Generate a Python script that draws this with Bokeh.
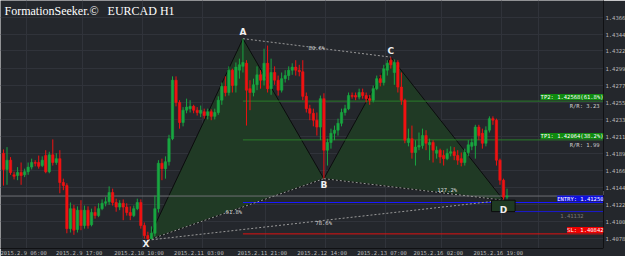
from bokeh.plotting import figure
from bokeh.models import ColumnDataSource, Range1d, FixedTicker, Label
from bokeh.core.properties import value
from bokeh.embed import file_html
from bokeh.resources import INLINE

# ---------------- data (EURCAD H1) ----------------
opens = [1.4189,1.4168,1.4180,1.4161,1.4160,1.4164,1.4161,1.4165,1.4171,1.4177,1.4177,1.4173,1.4186,1.4165,1.4187,1.4177,
         1.4182,1.4151,1.4147,1.4091,1.4117,1.4090,1.4115,1.4095,1.4115,1.4096,1.4112,1.4108,1.4117,1.4124,1.4126,1.4138,
         1.4125,1.4119,1.4124,1.4119,1.4112,1.4108,1.4117,1.4125,1.4095,1.4082,1.4078,1.4085,1.4117,1.4176,1.4169,1.4178,
         1.4208,1.4284,1.4255,1.4229,1.4245,1.4247,1.4250,1.4245,1.4241,1.4243,1.4238,1.4243,1.4237,1.4242,1.4258,1.4276,
         1.4268,1.4297,1.4277,1.4297,1.4302,1.4306,1.4273,1.4268,1.4278,1.4291,1.4284,1.4306,1.4273,1.4294,1.4284,1.4271,
         1.4286,1.4290,1.4297,1.4301,1.4297,1.4295,1.4263,1.4247,1.4241,1.4232,1.4223,1.4260,1.4193,1.4203,1.4215,1.4219,
         1.4228,1.4242,1.4247,1.4264,1.4264,1.4262,1.4268,1.4264,1.4260,1.4258,1.4273,1.4286,1.4281,1.4297,1.4310,1.4294,
         1.4307,1.4275,1.4258,1.4203,1.4208,1.4190,1.4197,1.4199,1.4212,1.4200,1.4203,1.4189,1.4193,1.4186,1.4182,1.4189,
         1.4191,1.4186,1.4182,1.4177,1.4190,1.4198,1.4199,1.4223,1.4215,1.4202,1.4219,1.4234,1.4232,1.4180,1.4154,1.4132]
highs = [1.4194,1.4197,1.4184,1.4165,1.4171,1.4177,1.4169,1.4177,1.4182,1.4180,1.4186,1.4185,1.4193,1.4191,1.4207,1.4189,
         1.4193,1.4156,1.4150,1.4125,1.4122,1.4120,1.4128,1.4121,1.4120,1.4117,1.4120,1.4124,1.4129,1.4132,1.4146,1.4143,
         1.4130,1.4128,1.4129,1.4124,1.4120,1.4121,1.4130,1.4129,1.4099,1.4087,1.4094,1.4134,1.4180,1.4182,1.4185,1.4213,
         1.4289,1.4289,1.4258,1.4249,1.4260,1.4258,1.4252,1.4249,1.4251,1.4247,1.4247,1.4246,1.4247,1.4263,1.4281,1.4289,
         1.4302,1.4299,1.4307,1.4312,1.4338,1.4310,1.4284,1.4286,1.4302,1.4297,1.4325,1.4329,1.4312,1.4302,1.4290,1.4294,
         1.4297,1.4302,1.4306,1.4310,1.4304,1.4310,1.4268,1.4252,1.4247,1.4242,1.4264,1.4267,1.4208,1.4221,1.4225,1.4234,
         1.4247,1.4252,1.4268,1.4268,1.4268,1.4273,1.4273,1.4268,1.4265,1.4277,1.4290,1.4291,1.4304,1.4310,1.4314,1.4311,
         1.4310,1.4294,1.4260,1.4221,1.4225,1.4206,1.4216,1.4221,1.4219,1.4208,1.4206,1.4198,1.4195,1.4193,1.4195,1.4198,
         1.4197,1.4193,1.4190,1.4195,1.4206,1.4208,1.4226,1.4226,1.4221,1.4224,1.4237,1.4237,1.4234,1.4182,1.4156,1.4143]
lows = [1.4147,1.4148,1.4161,1.4155,1.4154,1.4148,1.4158,1.4161,1.4168,1.4172,1.4169,1.4171,1.4163,1.4163,1.4173,1.4174,
        1.4137,1.4141,1.4085,1.4086,1.4083,1.4086,1.4089,1.4091,1.4091,1.4094,1.4104,1.4106,1.4115,1.4120,1.4122,1.4121,
        1.4113,1.4115,1.4102,1.4108,1.4102,1.4106,1.4115,1.4091,1.4078,1.4076,1.4077,1.4081,1.4112,1.4154,1.4156,1.4173,
        1.4206,1.4250,1.4221,1.4224,1.4241,1.4242,1.4241,1.4238,1.4236,1.4234,1.4233,1.4232,1.4233,1.4239,1.4252,1.4263,
        1.4264,1.4268,1.4268,1.4286,1.4294,1.4225,1.4245,1.4263,1.4271,1.4273,1.4277,1.4268,1.4265,1.4278,1.4264,1.4268,
        1.4281,1.4284,1.4291,1.4290,1.4289,1.4258,1.4242,1.4232,1.4224,1.4212,1.4206,1.4156,1.4173,1.4195,1.4206,1.4212,
        1.4224,1.4238,1.4245,1.4260,1.4258,1.4259,1.4260,1.4255,1.4252,1.4255,1.4271,1.4276,1.4277,1.4290,1.4299,1.4278,
        1.4268,1.4252,1.4202,1.4198,1.4182,1.4173,1.4193,1.4195,1.4193,1.4180,1.4177,1.4182,1.4176,1.4173,1.4180,1.4185,
        1.4180,1.4174,1.4172,1.4173,1.4185,1.4193,1.4182,1.4206,1.4195,1.4198,1.4216,1.4226,1.4173,1.4148,1.4128,1.4129]
closes = [1.4168,1.4180,1.4164,1.4159,1.4164,1.4160,1.4165,1.4171,1.4177,1.4176,1.4172,1.4180,1.4165,1.4187,1.4177,1.4182,
          1.4151,1.4147,1.4091,1.4117,1.4089,1.4115,1.4095,1.4115,1.4095,1.4112,1.4108,1.4117,1.4124,1.4126,1.4138,1.4125,
          1.4119,1.4124,1.4119,1.4112,1.4108,1.4117,1.4125,1.4095,1.4082,1.4078,1.4085,1.4117,1.4176,1.4169,1.4178,1.4208,
          1.4284,1.4255,1.4229,1.4245,1.4249,1.4250,1.4245,1.4242,1.4245,1.4238,1.4243,1.4237,1.4242,1.4258,1.4276,1.4268,
          1.4297,1.4277,1.4301,1.4304,1.4307,1.4271,1.4268,1.4278,1.4291,1.4284,1.4306,1.4273,1.4294,1.4284,1.4271,1.4286,
          1.4290,1.4297,1.4301,1.4297,1.4295,1.4263,1.4247,1.4241,1.4232,1.4223,1.4260,1.4193,1.4203,1.4215,1.4219,1.4228,
          1.4242,1.4247,1.4264,1.4263,1.4262,1.4268,1.4264,1.4260,1.4258,1.4273,1.4286,1.4281,1.4299,1.4306,1.4304,1.4307,
          1.4275,1.4258,1.4206,1.4208,1.4190,1.4197,1.4199,1.4212,1.4202,1.4203,1.4193,1.4193,1.4184,1.4182,1.4189,1.4191,
          1.4186,1.4180,1.4177,1.4190,1.4200,1.4203,1.4223,1.4212,1.4202,1.4219,1.4234,1.4232,1.4180,1.4154,1.4132,1.41334]

time_tick_bars = [0, 16, 33, 50, 68, 85, 102, 118, 135]
time_tick_labels = ["2015.2.9 06:00", "2015.2.9 17:00", "2015.2.10 10:00", "2015.2.11 03:00",
                    "2015.2.11 21:00", "2015.2.12 14:00", "2015.2.13 07:00", "2015.2.16 02:00",
                    "2015.2.16 19:00"]
price_ticks = [1.4366, 1.4344, 1.4322, 1.4299, 1.4277, 1.4255, 1.4233, 1.4211,
               1.4189, 1.4166, 1.4144, 1.4122, 1.4100, 1.4078]

pattern_names = ["X", "A", "B", "C", "D"]
pattern_bars = [41, 68, 91, 110, 142]
pattern_prices = [1.4076, 1.4338, 1.4156, 1.4314, 1.4128]
ratio_texts = ["61.8%", "80.6%", "127.2%", "78.6%"]   # XB, AC, BD, XD

tp2, tp1, entry, ext127, sl, last_price = 1.42568, 1.42064, 1.41250, 1.41132, 1.40842, 1.41334
tp2_text = "TP2: 1.42568(61.8%)"
tp1_text = "TP1: 1.42064(38.2%)"
rr_texts = ["R/R: 3.23", "R/R: 1.99"]
entry_text = "ENTRY: 1.41250"
sl_text = "SL: 1.40842"
ext_text = "1.41132"
title_text = "FormationSeeker.\u00a9\u00a0\u00a0\u00a0EURCAD H1"

# ---------------- styling ----------------
BG = "#24272c"
GRID = "#30333a"
UP = "#18a640"
DN = "#f01212"
MONO = "DejaVu Sans Mono"
LABEL_SHIFT = 5.5      # time labels are drawn to the right of their bar
GRID_SHIFT = 6.5

n = len(opens)
x_end = 170.4
p = figure(frame_width=603, frame_height=248, output_backend="svg", toolbar_location=None,
           x_range=Range1d(-0.85, x_end), y_range=Range1d(1.40652, 1.43876),
           y_axis_location="right", min_border=0)
p.background_fill_color = BG
p.border_fill_color = BG
p.outline_line_color = None

# axes
ya = p.yaxis[0]
ya.ticker = FixedTicker(ticks=price_ticks)
ya.major_label_overrides = {t: f"{t:.4f}" for t in price_ticks}
ya.major_label_text_font = MONO
ya.major_label_text_font_size = "5.5px"
ya.major_label_text_color = "#b8b8b8"
ya.major_label_text_baseline = "bottom"
ya.major_label_standoff = 2
ya.major_tick_out = 0
ya.major_tick_in = 0
ya.minor_tick_out = 0
ya.minor_tick_in = 0
ya.axis_line_color = "#101114"

xa = p.xaxis[0]
shifted = [b + LABEL_SHIFT for b in time_tick_bars]
xa.ticker = FixedTicker(ticks=shifted)
xa.major_label_overrides = {s: t for s, t in zip(shifted, time_tick_labels)}
xa.major_label_text_font = MONO
xa.major_label_text_font_size = "5.5px"
xa.major_label_text_color = "#b8b8b8"
xa.major_label_standoff = 1
xa.major_tick_out = 0
xa.major_tick_in = 0
xa.minor_tick_out = 0
xa.minor_tick_in = 0
xa.axis_line_color = "#101114"

p.xgrid.ticker = FixedTicker(ticks=[b + GRID_SHIFT for b in time_tick_bars] + [152.0])
p.ygrid.ticker = FixedTicker(ticks=price_ticks)
p.xgrid.grid_line_color = GRID
p.ygrid.grid_line_color = GRID

# pattern triangles
X, A, B, C, D = list(zip(pattern_bars, pattern_prices))
p.patches(xs=[[X[0], A[0], B[0]], [B[0], C[0], D[0]]],
          ys=[[X[1], A[1], B[1]], [B[1], C[1], D[1]]],
          fill_color="#203a25", line_color="#0b0c0d", line_width=1)

# level lines
p.segment(x0=[A[0]] * 4, x1=[x_end] * 4,
          y0=[tp2, tp1, entry, sl], y1=[tp2, tp1, entry, sl],
          line_color=["#2a7d2a", "#2a7d2a", "#1818ff", "#e01010"], line_width=1)
p.segment(x0=[-0.85], x1=[x_end], y0=[last_price], y1=[last_price], line_color="#6d7075", line_width=1)

# dotted ratio lines
p.segment(x0=[X[0], A[0], B[0], X[0]], y0=[X[1], A[1], B[1], X[1]],
          x1=[B[0], C[0], D[0], D[0]], y1=[B[1], C[1], D[1], D[1]],
          line_color="#9a9a9a", line_dash="2 2", line_width=1)

# candles
colors = [UP if c >= o else DN for o, c in zip(opens, closes)]
src = ColumnDataSource(dict(i=list(range(n)), o=opens, h=highs, l=lows, c=closes, col=colors))
p.segment(x0="i", y0="h", x1="i", y1="l", line_color="col", line_width=1, source=src)
p.vbar(x="i", width=0.66, top="o", bottom="c", fill_color="col", line_color="col", line_width=0.6, source=src)

# D zone box and 127.2% extension line
p.quad(left=[D[0] - 3.4], right=[D[0] + 3.3], top=[D[1]], bottom=[ext127],
       fill_color="#1f3a23", line_color="#0b0c0d", line_width=1)
p.segment(x0=[D[0] + 3.3], x1=[x_end], y0=[ext127], y1=[ext127], line_color="#1a1ad0", line_width=1)

# ratio labels
rx = [(X[0] + B[0]) / 2, (A[0] + C[0]) / 2, (C[0] + D[0]) / 2, (X[0] + D[0]) / 2]
bd_slope = (D[1] - B[1]) / (D[0] - B[0])
ry = [(X[1] + B[1]) / 2, (A[1] + C[1]) / 2, B[1] + bd_slope * ((C[0] + D[0]) / 2 - B[0]), (X[1] + D[1]) / 2]
p.text(x=rx, y=ry, text=ratio_texts, x_offset=[-2, 0, 0, -2], y_offset=[3, 0, -3, 3],
       text_align="center", text_baseline="middle",
       text_font=value(MONO), text_font_size="5.5px", text_color="#d8d8d8")

# point letters
p.text(x=list(pattern_bars), y=list(pattern_prices), text=pattern_names,
       x_offset=[-2, 0, 0, 0, 0], y_offset=[-1, -2, 1, -1, 5],
       text_baseline=["top", "bottom", "top", "bottom", "top"],
       text_align="center", text_font=value("DejaVu Sans"), text_font_style="bold",
       text_font_size="9px", text_color="#f0f0f0")

# level labels
def box(text, y, bg, fg="#ffffff", baseline="bottom", yoff=1, xoff=0):
    p.add_layout(Label(x=x_end, y=y, text=text, text_align="right", text_baseline=baseline,
                       x_offset=xoff, y_offset=yoff, text_font=MONO, text_font_size="5.5px",
                       text_color=fg, background_fill_color=bg))

box(tp2_text, tp2, "#0f8a0f")
box(tp1_text, tp1, "#0f8a0f")
box(entry_text, entry, "#1010e0")
box(sl_text, sl, "#ee0000")
box(rr_texts[0], tp2, None, fg="#d0d0d0", baseline="top", yoff=-2, xoff=-4)
box(rr_texts[1], tp1, None, fg="#d0d0d0", baseline="top", yoff=-2, xoff=-4)
box(ext_text, ext127, None, fg="#7a7a7a", baseline="top", yoff=-1, xoff=-20)

# current price marker on the price axis
p.add_layout(Label(x=x_end, y=last_price, text=f"{last_price:.5f}", text_align="left",
                   text_baseline="bottom", x_offset=0, y_offset=1, text_font=MONO,
                   text_font_size="4.9px", text_color="#000000", background_fill_color="#ffffff"))

# title
p.add_layout(Label(x=-0.85, y=1.43876, text=title_text, x_offset=4, y_offset=-3,
                   text_baseline="top", text_font="Liberation Serif", text_font_size="12px",
                   text_color="#ffffff"))

open("out.html", "w").write(file_html(p, INLINE))
